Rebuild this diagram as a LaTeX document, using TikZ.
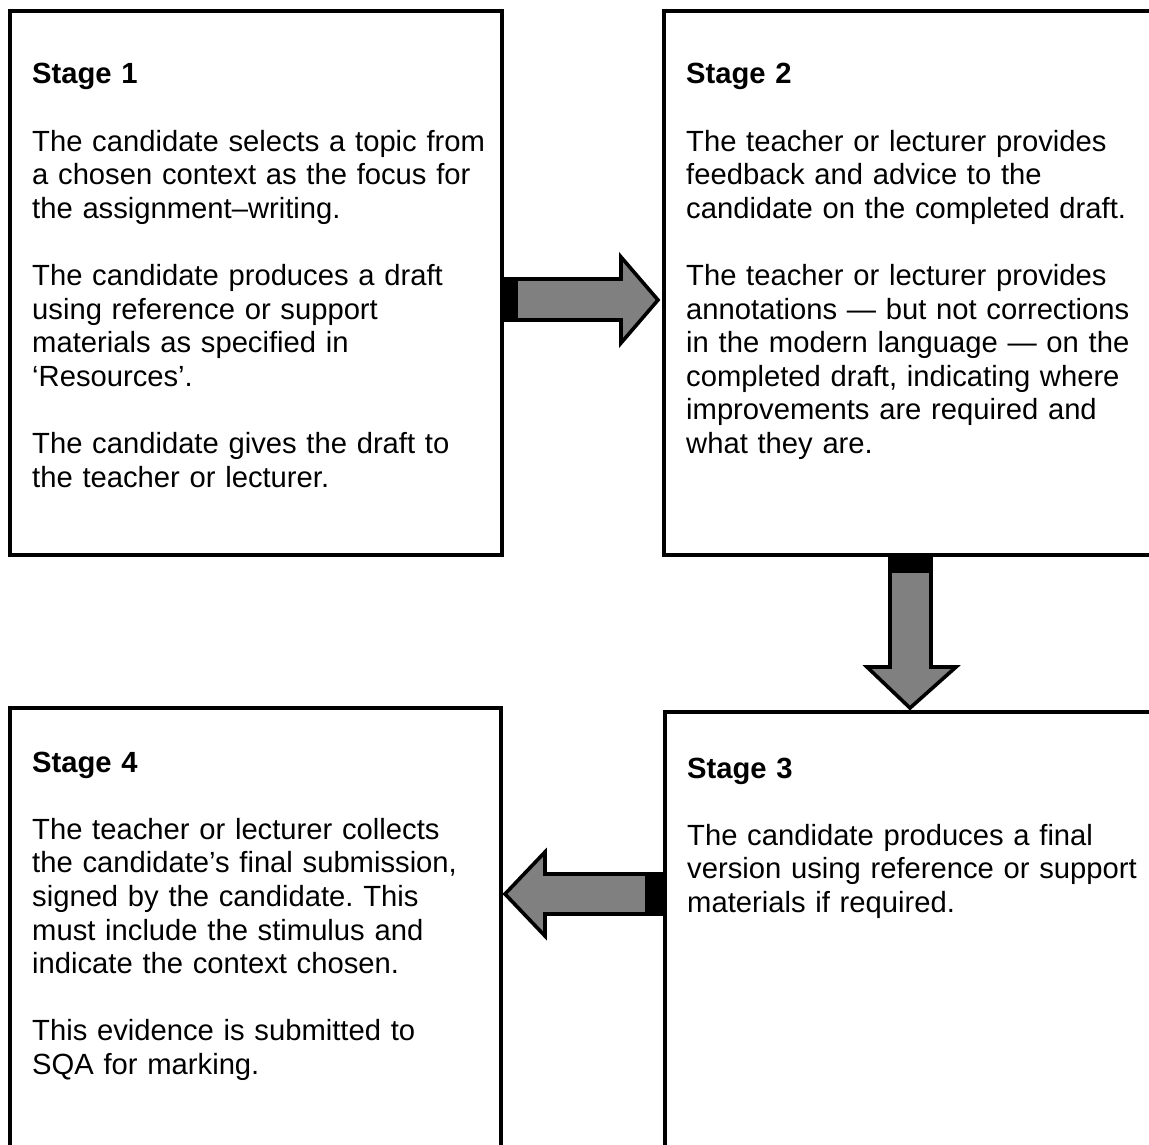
\documentclass[tikz,border=0pt]{standalone}
\usepackage{fontspec}
\setmainfont{Liberation Sans}
\frenchspacing
\definecolor{arrowgray}{HTML}{808080}
\tikzset{
  stagebox/.style={draw=black, line width=3.6pt, fill=none, inner sep=0pt, outer sep=0pt, anchor=north west},
  stagetext/.style={anchor=base west, inner sep=0pt, text width=470pt, align=left,
    font=\fontsize{29.2}{33.6}\selectfont},
  blockarrow/.style={draw=black, fill=arrowgray, line width=3.6pt, line join=miter},
  tailbar/.style={fill=black}
}
\begin{document}
\begin{tikzpicture}[x=1pt,y=-1pt]
\useasboundingbox (0,0) rectangle (1149,1145);
% boxes
\node[stagebox, minimum width=492pt, minimum height=544pt] (b1) at (10,11) {};
\node[stagebox, minimum width=490pt, minimum height=544pt] (b2) at (664,11) {};
\node[stagebox, minimum width=490pt, minimum height=450pt] (b3) at (665,712) {};
\node[stagebox, minimum width=491pt, minimum height=450pt] (b4) at (10,708) {};
% texts
\node[stagetext] (t1) at (32,84) {\textbf{Stage 1}\\[33.6pt]
The candidate selects a topic from\\
a chosen context as the focus for\\
the assignment–writing.\\[33.6pt]
The candidate produces a draft\\
using reference or support\\
materials as specified in\\
‘Resources’.\\[33.6pt]
The candidate gives the draft to\\
the teacher or lecturer.};
\node[stagetext] (t2) at (686,84) {\textbf{Stage 2}\\[33.6pt]
The teacher or lecturer provides\\
feedback and advice to the\\
candidate on the completed draft.\\[33.6pt]
The teacher or lecturer provides\\
annotations — but not corrections\\
in the modern language — on the\\
completed draft, indicating where\\
improvements are required and\\
what they are.};
\node[stagetext] (t3) at (687,778) {\textbf{Stage 3}\\[33.6pt]
The candidate produces a final\\
version using reference or support\\
materials if required.};
\node[stagetext] (t4) at (32,772) {\textbf{Stage 4}\\[33.6pt]
The teacher or lecturer collects\\
the candidate’s final submission,\\
signed by the candidate. This\\
must include the stimulus and\\
indicate the context chosen.\\[33.6pt]
This evidence is submitted to\\
SQA for marking.};
% arrow 1 -> 2
\coordinate (a1tip) at (658,300);
\draw[blockarrow] (503,279) -- (621,279) -- (621,257) -- (a1tip) -- (621,343) -- (621,320) -- (503,320) -- cycle;
\fill[tailbar] (501,277) rectangle (518,322);
% arrow 2 -> 3
\coordinate (a2tip) at (910,708);
\draw[blockarrow] (890,557) -- (890,667) -- (867,667) -- (a2tip) -- (956,667) -- (931,667) -- (931,557) -- cycle;
\fill[tailbar] (888,553) rectangle (933,573);
% arrow 3 -> 4
\coordinate (a3tip) at (505,894);
\draw[blockarrow] (662,874) -- (545,874) -- (545,852) -- (a3tip) -- (545,936) -- (545,914) -- (662,914) -- cycle;
\fill[tailbar] (645,872) rectangle (664,916);
\end{tikzpicture}
\end{document}
